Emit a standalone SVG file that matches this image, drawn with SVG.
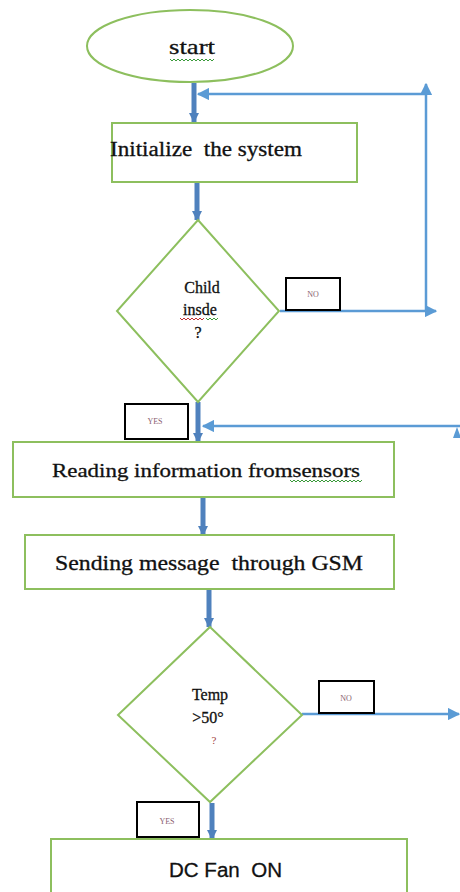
<svg xmlns="http://www.w3.org/2000/svg" width="460" height="892" viewBox="0 0 460 892">
<defs>
<style>
.node{fill:#fff;stroke:#8dbf5e;stroke-width:2}
.lbl{fill:#fff;stroke:#000;stroke-width:2}
.thick{stroke:#4f81bd;stroke-width:5;fill:none;marker-end:url(#ah)}
.thin{stroke:#5b9bd5;stroke-width:2.5;fill:none}
text{white-space:pre}
.serif{font-family:"Liberation Serif","DejaVu Serif","Times New Roman",serif;fill:#111;stroke:#111;stroke-width:0.3}
.sans{font-family:"Liberation Sans",Arial,sans-serif;fill:#111;stroke:#111;stroke-width:0.3}
.small{font-family:"Liberation Serif","DejaVu Serif",serif;font-size:8px;fill:#8a6070}
.squig{fill:none;stroke-width:1}
</style>
<marker id="ah" viewBox="0 0 10 10" refX="9" refY="5" markerWidth="2" markerHeight="2" orient="auto" markerUnits="strokeWidth">
<path d="M0,0 L10,5 L0,10 z" fill="#4f81bd"/>
</marker>
<marker id="at" viewBox="0 0 10 10" refX="9" refY="5" markerWidth="5" markerHeight="5" orient="auto" markerUnits="strokeWidth">
<path d="M0,0 L10,5 L0,10 z" fill="#5b9bd5"/>
</marker>
</defs>

<g id="connectors">
<line class="thick" x1="194" y1="83" x2="194" y2="122"/>
<line class="thick" x1="197" y1="182" x2="197" y2="220"/>
<line class="thick" x1="198" y1="402" x2="198" y2="442"/>
<line class="thick" x1="203" y1="497" x2="203" y2="535"/>
<line class="thick" x1="209" y1="589" x2="209" y2="627"/>
<line class="thick" x1="212" y1="803" x2="212" y2="839"/>
<line class="thin" x1="280" y1="311" x2="436" y2="311" marker-end="url(#at)"/>
<line class="thin" x1="426" y1="311" x2="426" y2="84" marker-end="url(#at)"/>
<line class="thin" x1="426" y1="94" x2="198" y2="94" marker-end="url(#at)"/>
<line class="thin" x1="460" y1="426" x2="203" y2="426" marker-end="url(#at)"/>
<path d="M453,438 L457,427 L461,438 z" fill="#5b9bd5"/>
<line class="thin" x1="302" y1="714" x2="459" y2="714" marker-end="url(#at)"/>
</g>

<g id="start">
<ellipse class="node" cx="190" cy="46" rx="103" ry="36"/>
<text class="serif" x="192" y="54" font-size="22" text-anchor="middle" textLength="46" lengthAdjust="spacingAndGlyphs">start</text>
<path class="squig" stroke="#3a9a3a" d="M170,59 l2,2 l2,-2 l2,2 l2,-2 l2,2 l2,-2 l2,2 l2,-2 l2,2 l2,-2 l2,2 l2,-2 l2,2 l2,-2 l2,2 l2,-2 l2,2 l2,-2 l2,2 l2,-2 l2,2 l2,-2"/>
</g>

<g id="init">
<rect class="node" x="112" y="123" width="245" height="59"/>
<text class="serif" x="110" y="156" font-size="20" textLength="192" lengthAdjust="spacingAndGlyphs">Initialize  the system</text>
</g>

<g id="child">
<polygon class="node" points="198,220 279,311 198,402 117,311"/>
<text class="serif" x="202" y="293" font-size="16" text-anchor="middle">Child</text>
<text class="serif" x="200" y="315" font-size="16" text-anchor="middle">insde</text>
<path class="squig" stroke="#c03030" d="M180,318 l2,2 l2,-2 l2,2 l2,-2 l2,2 l2,-2 l2,2 l2,-2 l2,2 l2,-2 l2,2 l2,-2"/>
<path class="squig" stroke="#3a9a3a" d="M206,318 l2,2 l2,-2 l2,2 l2,-2 l2,2 l2,-2"/>
<text class="serif" x="198" y="338" font-size="16" text-anchor="middle">?</text>
</g>

<g id="no1">
<rect class="lbl" x="286" y="278" width="54" height="32"/>
<text class="small" x="313" y="297" text-anchor="middle">NO</text>
</g>

<g id="yes1">
<rect class="lbl" x="125" y="404" width="63" height="35"/>
<text class="small" x="155" y="424" text-anchor="middle">YES</text>
</g>

<g id="reading">
<rect class="node" x="13" y="442" width="381" height="55"/>
<text class="serif" x="52" y="477" font-size="19" textLength="308" lengthAdjust="spacingAndGlyphs">Reading information fromsensors</text>
<path class="squig" stroke="#3a9a3a" d="M290,480 l2,2 l2,-2 l2,2 l2,-2 l2,2 l2,-2 l2,2 l2,-2 l2,2 l2,-2 l2,2 l2,-2 l2,2 l2,-2 l2,2 l2,-2 l2,2 l2,-2 l2,2 l2,-2 l2,2 l2,-2 l2,2 l2,-2 l2,2 l2,-2 l2,2 l2,-2 l2,2 l2,-2 l2,2 l2,-2 l2,2 l2,-2 l2,2 l2,-2"/>
</g>

<g id="sending">
<rect class="node" x="25" y="535" width="369" height="54"/>
<text class="serif" x="55" y="570" font-size="21" textLength="308" lengthAdjust="spacingAndGlyphs">Sending message  through GSM</text>
</g>

<g id="temp">
<polygon class="node" points="210,627 302,715 210,802 118,715"/>
<text class="serif" x="210" y="700" font-size="16" text-anchor="middle">Temp</text>
<text class="serif" x="208" y="723" font-size="16" text-anchor="middle">&gt;50°</text>
<text x="214" y="744" font-size="11" text-anchor="middle" font-family="Liberation Serif, serif" fill="#a04040">?</text>
</g>

<g id="no2">
<rect class="lbl" x="319" y="681" width="55" height="32"/>
<text class="small" x="346" y="701" text-anchor="middle">NO</text>
</g>

<g id="yes2">
<rect class="lbl" x="137" y="802" width="62" height="35"/>
<text class="small" x="167" y="824" text-anchor="middle">YES</text>
</g>

<g id="fan">
<rect class="node" x="51" y="839" width="356" height="60"/>
<text class="sans" x="169" y="877" font-size="20" textLength="113" lengthAdjust="spacingAndGlyphs">DC Fan  ON</text>
</g>
</svg>
